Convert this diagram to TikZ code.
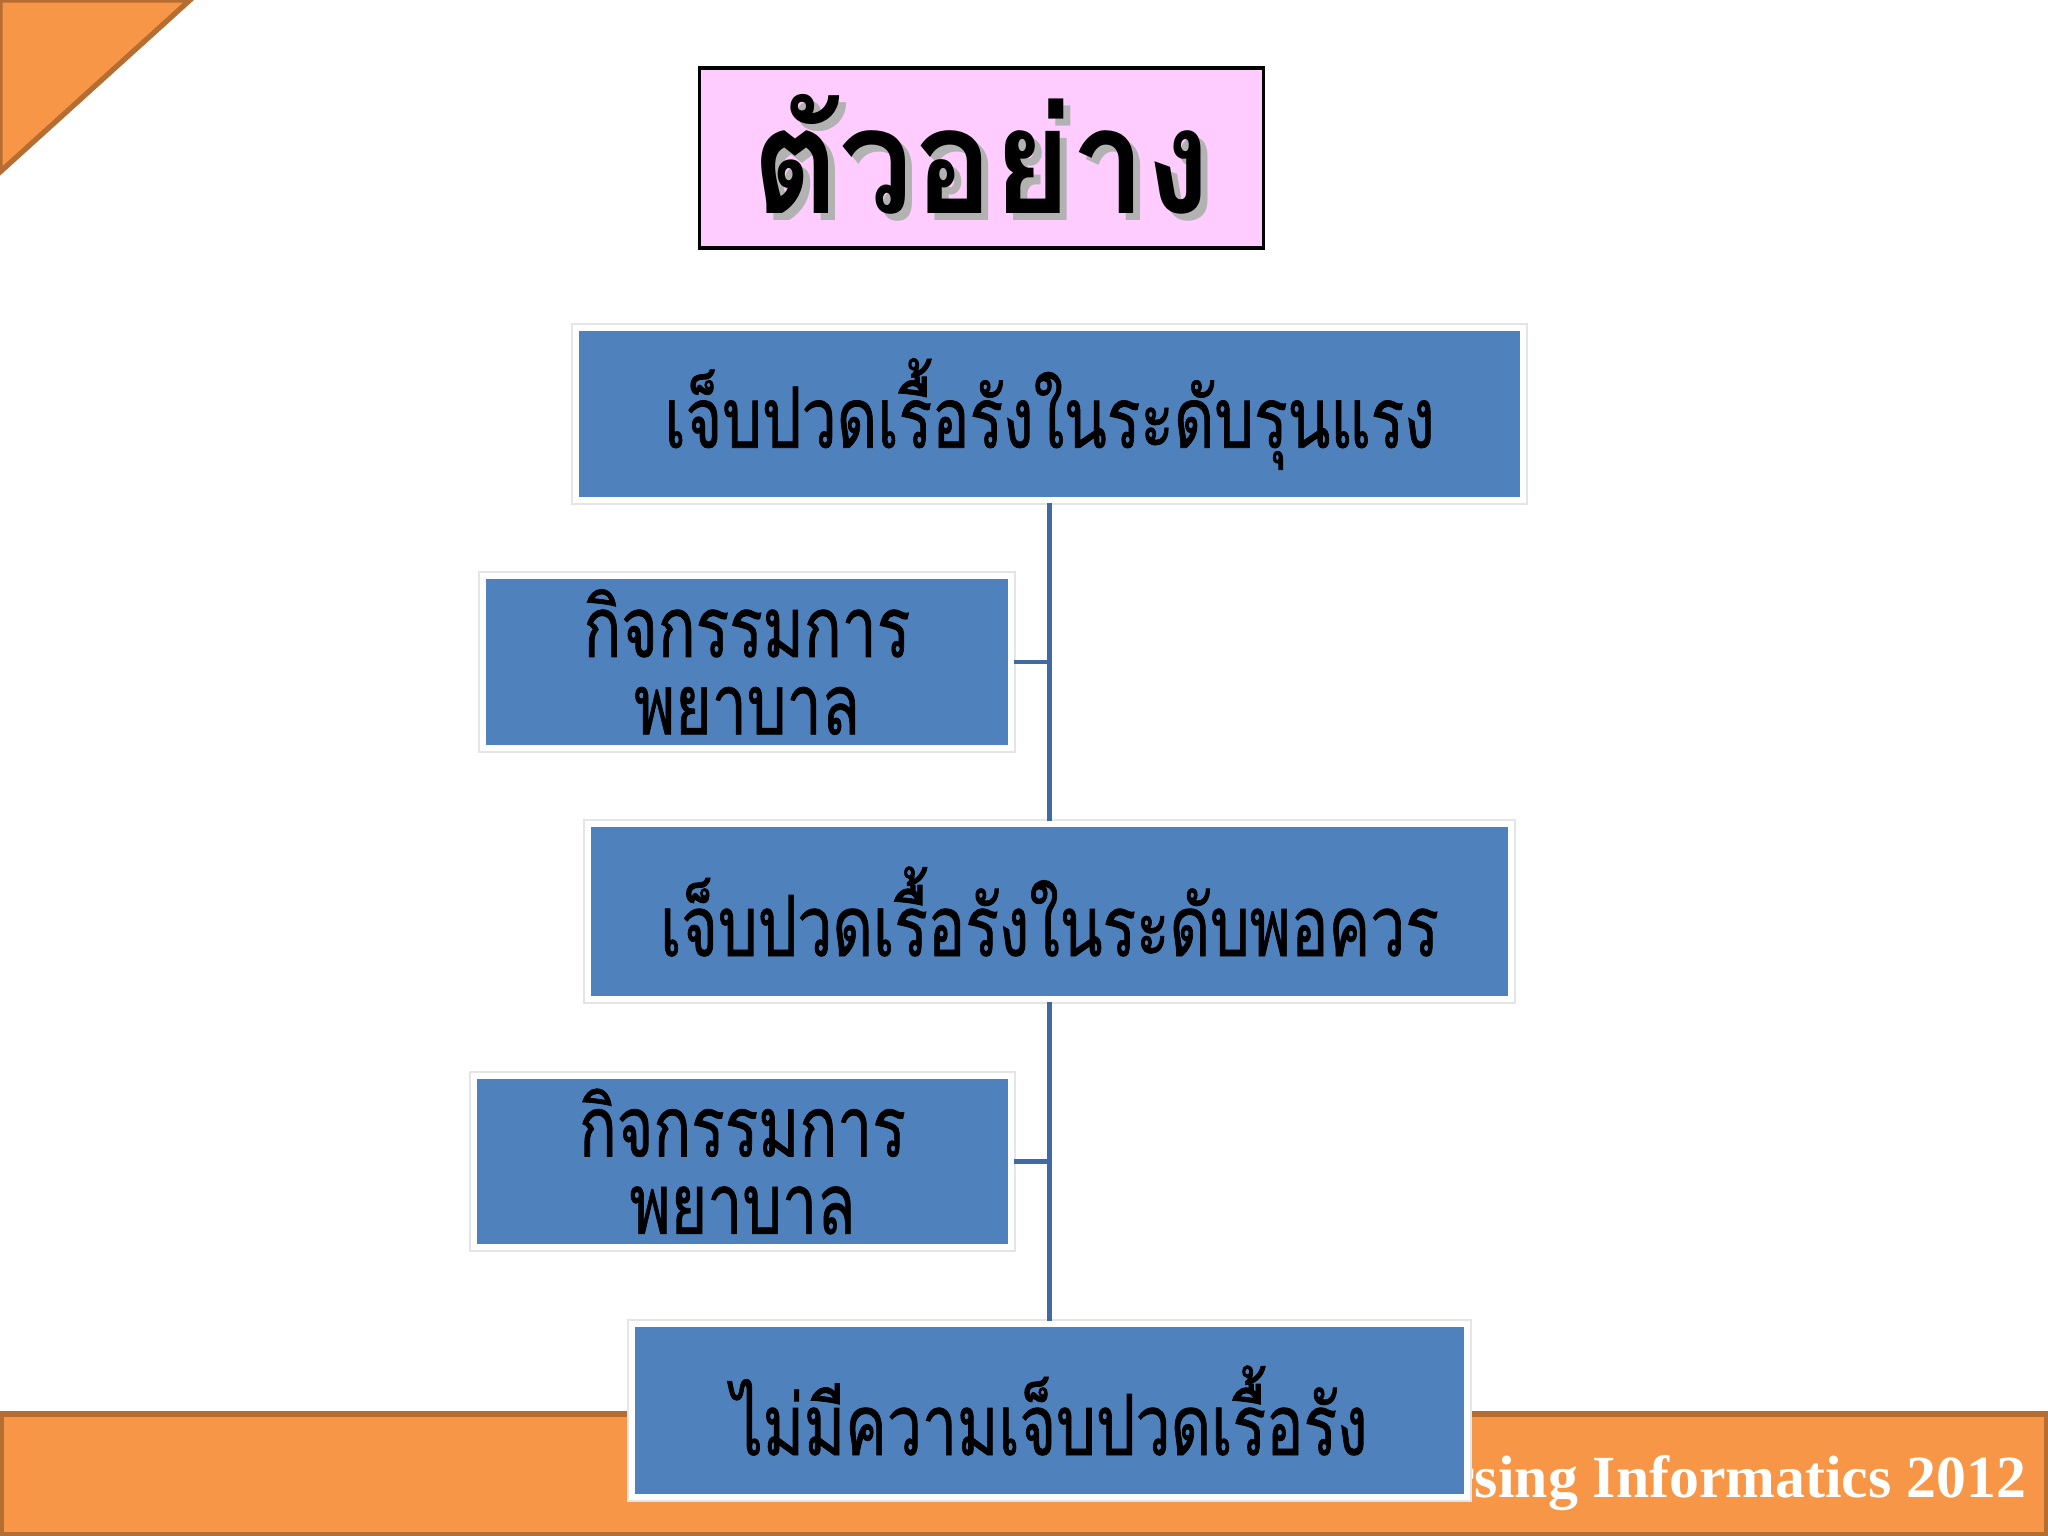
\documentclass[tikz,border=0pt]{standalone}
\usepackage{fontspec}
\setmainfont{Liberation Serif}
\newfontfamily\thaifont[Script=Thai,FakeStretch=0.74,FakeBold=0.8]{Loma}
\newfontfamily\thaititle[Script=Thai,FakeStretch=0.9]{Loma}
\usetikzlibrary{positioning,%
		calc}
\definecolor{boxblue}{HTML}{4F81BD}
\definecolor{linkblue}{HTML}{3F6AA3}
\definecolor{barorange}{HTML}{F79646}
\definecolor{barbrown}{HTML}{B66D31}
\definecolor{titlepink}{HTML}{FFCCFF}
\newcommand\shadowed[1]{\makebox[0pt][l]{\hspace{2pt}\raisebox{-2pt}{\color{black!30}#1}}#1}
\tikzset{
  levelbox/.style={fill=boxblue, draw=white, line width=1.6pt,
    preaction={draw=black!10, line width=2.6pt},
    inner sep=0pt, align=center, text=black,
    font=\thaifont\fontsize{24}{22}\selectfont},
  titlebox/.style={fill=titlepink, draw=black, line width=0.9pt,
    minimum width=5.63cm, minimum height=1.8cm, inner sep=0pt,
    font=\thaititle\bfseries\fontsize{42}{46}\selectfont},
  link/.style={draw=linkblue, line width=1.2pt},
  corner/.style={fill=barorange, draw=barbrown, line width=1.5pt},
  footbar/.style={fill=barorange, draw=barbrown, line width=1.5pt},
  foottext/.style={text=white, inner sep=0pt,
    font=\bfseries\fontsize{17}{19}\selectfont}
}
\begin{document}
\begin{tikzpicture}[x=0.01cm,y=-0.01cm]
\useasboundingbox (0,0) rectangle (2048,1536);
\fill[white] (0,0) rectangle (2048,1536);

% slide frame
\draw[corner] (0,0) -- (190,0) -- (0,172) -- cycle;
\draw[footbar] (1,1414) rectangle (2047,1535);
\node[foottext, anchor=base east] (foot) at (2027,1497) {Nursing Informatics 2012};

% title
\node[titlebox] (title) at (981.5,158) {\shadowed{ตัวอย่าง}};

% levels
\node[levelbox, minimum width=9.47cm, minimum height=1.72cm] (severe) at (1049.5,414)
  {เจ็บปวดเรื้อรังในระดับรุนแรง};
\node[levelbox, minimum width=5.28cm, minimum height=1.72cm] (care1) at (747,662)
  {กิจกรรมการ\\พยาบาล};
\node[levelbox, minimum width=9.23cm, minimum height=1.75cm] (moderate) at (1049.5,911.5)
  {เจ็บปวดเรื้อรังในระดับพอควร};
\node[levelbox, minimum width=5.37cm, minimum height=1.71cm] (care2) at (742.5,1161.5)
  {กิจกรรมการ\\พยาบาล};
\node[levelbox, minimum width=8.35cm, minimum height=1.73cm] (none) at (1049.5,1410.5)
  {ไม่มีความเจ็บปวดเรื้อรัง};

% links
\draw[link] (severe.south) -- (moderate.north);
\draw[link] (moderate.south) -- (none.north);
\draw[link] (care1.east) -- (care1.east -| severe.south);
\draw[link] (care2.east) -- (care2.east -| moderate.south);

\end{tikzpicture}
\end{document}
